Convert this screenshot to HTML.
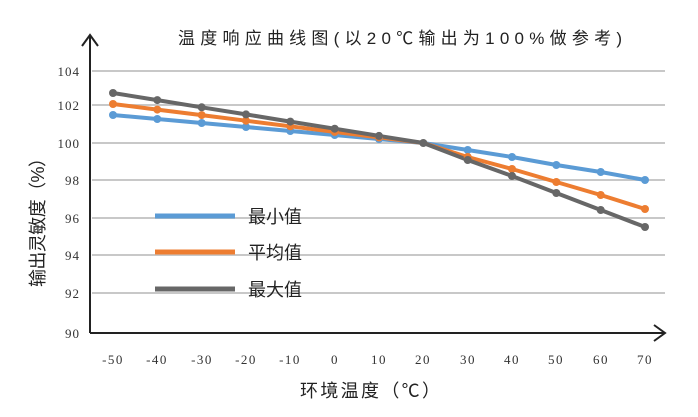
<!DOCTYPE html>
<html><head><meta charset="utf-8"><style>body{margin:0;background:#fff}svg{display:block}</style></head><body>
<svg width="698" height="417" xmlns="http://www.w3.org/2000/svg" font-family="'Liberation Serif','Noto Serif CJK SC',serif">
<g stroke="#c8c8c8" stroke-width="2">
<line x1="92" y1="71" x2="665" y2="71"/><line x1="92" y1="105" x2="665" y2="105"/><line x1="92" y1="143" x2="665" y2="143"/><line x1="92" y1="180" x2="665" y2="180"/><line x1="92" y1="218" x2="665" y2="218"/><line x1="92" y1="255" x2="665" y2="255"/><line x1="92" y1="293" x2="665" y2="293"/>
</g>
<g stroke="#222" stroke-width="2" fill="none">
<line x1="90" y1="333" x2="90" y2="36"/><polyline points="82,46 90,35 98,46"/>
<line x1="90" y1="333" x2="665" y2="333"/><polyline points="654,325 665,333 654,341"/>
</g>
<g font-size="13" fill="#333" text-anchor="end" letter-spacing="1">
<text x="80" y="76">104</text><text x="80" y="110">102</text><text x="80" y="148">100</text><text x="80" y="185">98</text><text x="80" y="223">96</text><text x="80" y="260">94</text><text x="80" y="298">92</text><text x="80" y="338">90</text>
</g>
<g font-size="13" fill="#333" text-anchor="middle" letter-spacing="1.5">
<text x="113" y="364">-50</text><text x="157" y="364">-40</text><text x="202" y="364">-30</text><text x="246" y="364">-20</text><text x="290" y="364">-10</text><text x="335" y="364">0</text><text x="379" y="364">10</text><text x="423" y="364">20</text><text x="468" y="364">30</text><text x="512" y="364">40</text><text x="556" y="364">50</text><text x="601" y="364">60</text><text x="645" y="364">70</text>
</g>
<g fill="none" stroke-width="4">
<polyline stroke="#5b9bd5" points="113,115 157.3,119 201.7,123 246,127 290.3,131 334.7,135 379,139 423.3,143 467.7,150 512,157 556.3,165 600.7,172 645,180"/>
<polyline stroke="#ed7d31" points="113,104 157.3,109.6 201.7,115.1 246,120.7 290.3,126.3 334.7,131.9 379,137.4 423.3,143 467.7,157 512,169 556.3,182 600.7,195 645,209"/>
<polyline stroke="#676767" points="113,93 157.3,100.1 201.7,107.3 246,114.4 290.3,121.6 334.7,128.7 379,135.9 423.3,143 467.7,160 512,176 556.3,193 600.7,210 645,227"/>
</g>
<g fill="#5b9bd5"><circle cx="113" cy="115" r="4"/><circle cx="157.3" cy="119" r="4"/><circle cx="201.7" cy="123" r="4"/><circle cx="246" cy="127" r="4"/><circle cx="290.3" cy="131" r="4"/><circle cx="334.7" cy="135" r="4"/><circle cx="379" cy="139" r="4"/><circle cx="467.7" cy="150" r="4"/><circle cx="512" cy="157" r="4"/><circle cx="556.3" cy="165" r="4"/><circle cx="600.7" cy="172" r="4"/><circle cx="645" cy="180" r="4"/></g>
<g fill="#ed7d31"><circle cx="113" cy="104" r="4"/><circle cx="157.3" cy="109.6" r="4"/><circle cx="201.7" cy="115.1" r="4"/><circle cx="246" cy="120.7" r="4"/><circle cx="290.3" cy="126.3" r="4"/><circle cx="334.7" cy="131.9" r="4"/><circle cx="379" cy="137.4" r="4"/><circle cx="467.7" cy="157" r="4"/><circle cx="512" cy="169" r="4"/><circle cx="556.3" cy="182" r="4"/><circle cx="600.7" cy="195" r="4"/><circle cx="645" cy="209" r="4"/></g>
<g fill="#676767"><circle cx="113" cy="93" r="4"/><circle cx="157.3" cy="100.1" r="4"/><circle cx="201.7" cy="107.3" r="4"/><circle cx="246" cy="114.4" r="4"/><circle cx="290.3" cy="121.6" r="4"/><circle cx="334.7" cy="128.7" r="4"/><circle cx="379" cy="135.9" r="4"/><circle cx="423.3" cy="143" r="4"/><circle cx="467.7" cy="160" r="4"/><circle cx="512" cy="176" r="4"/><circle cx="556.3" cy="193" r="4"/><circle cx="600.7" cy="210" r="4"/><circle cx="645" cy="227" r="4"/></g>
<g stroke-width="5"><line x1="155" y1="216" x2="235" y2="216" stroke="#5b9bd5"/><line x1="155" y1="252" x2="235" y2="252" stroke="#ed7d31"/><line x1="155" y1="289" x2="235" y2="289" stroke="#676767"/></g>
<g font-family="'Liberation Sans','Noto Sans CJK SC',sans-serif" fill="#222">
<text x="248" y="223" font-size="18">最小值</text><text x="248" y="259" font-size="18">平均值</text><text x="248" y="296" font-size="18">最大值</text>
<text x="178" y="44" font-size="17" textLength="444" lengthAdjust="spacing">温度响应曲线图(以20℃输出为100%做参考)</text>
<text x="300" y="397" font-size="18" textLength="140" lengthAdjust="spacing">环境温度（℃）</text>
<text transform="translate(44,218) rotate(-90)" text-anchor="middle" font-size="18" textLength="138" lengthAdjust="spacing">输出灵敏度（%）</text>
</g>
</svg>
</body></html>
